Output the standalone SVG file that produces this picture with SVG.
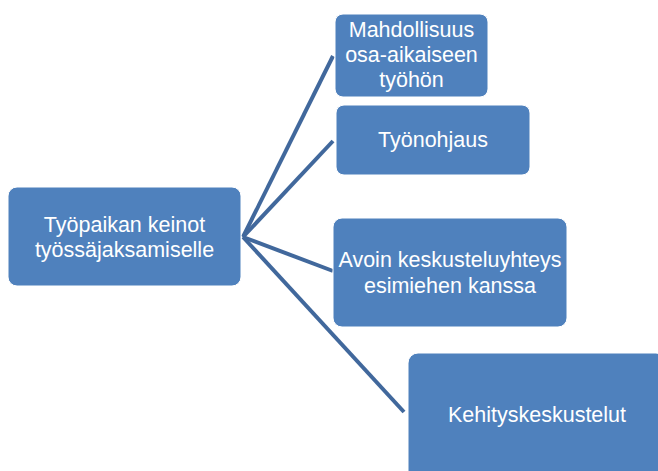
<svg xmlns="http://www.w3.org/2000/svg" width="658" height="471" viewBox="0 0 658 471">
<style>
.box{fill:#4F81BD;stroke:#ffffff;stroke-width:1}
.t{fill:#ffffff;font-family:"Liberation Sans",Arial,sans-serif;font-size:21.5px;text-anchor:middle}
.c{stroke:#41689C;stroke-width:4;fill:none;stroke-linecap:butt}
</style>
<rect width="658" height="471" fill="#ffffff"/>
<g id="connectors">
<line class="c" x1="243" y1="237" x2="333" y2="56"/>
<line class="c" x1="243" y1="237" x2="333" y2="141"/>
<line class="c" x1="243" y1="237" x2="333" y2="271"/>
<line class="c" x1="243" y1="237" x2="404" y2="412"/>
</g>
<g id="n-root">
<rect class="box" x="8" y="187" width="233" height="99" rx="9"/>
<text class="t" x="124.5" y="232">Työpaikan keinot</text>
<text class="t" x="124.5" y="257">työssäjaksamiselle</text>
</g>
<g id="n-mahdollisuus">
<rect class="box" x="335" y="14" width="153" height="83" rx="8"/>
<text class="t" x="411.5" y="37">Mahdollisuus</text>
<text class="t" x="411.5" y="62">osa-aikaiseen</text>
<text class="t" x="411.5" y="87">työhön</text>
</g>
<g id="n-tyonohjaus">
<rect class="box" x="336" y="105" width="194" height="70" rx="8"/>
<text class="t" x="433" y="147">Työnohjaus</text>
</g>
<g id="n-avoin">
<rect class="box" x="333" y="218" width="234" height="109" rx="9"/>
<text class="t" x="450" y="267">Avoin keskusteluyhteys</text>
<text class="t" x="450" y="293">esimiehen kanssa</text>
</g>
<g id="n-kehitys">
<rect class="box" x="408" y="353" width="258" height="130" rx="10"/>
<text class="t" x="537" y="422">Kehityskeskustelut</text>
</g>
</svg>
